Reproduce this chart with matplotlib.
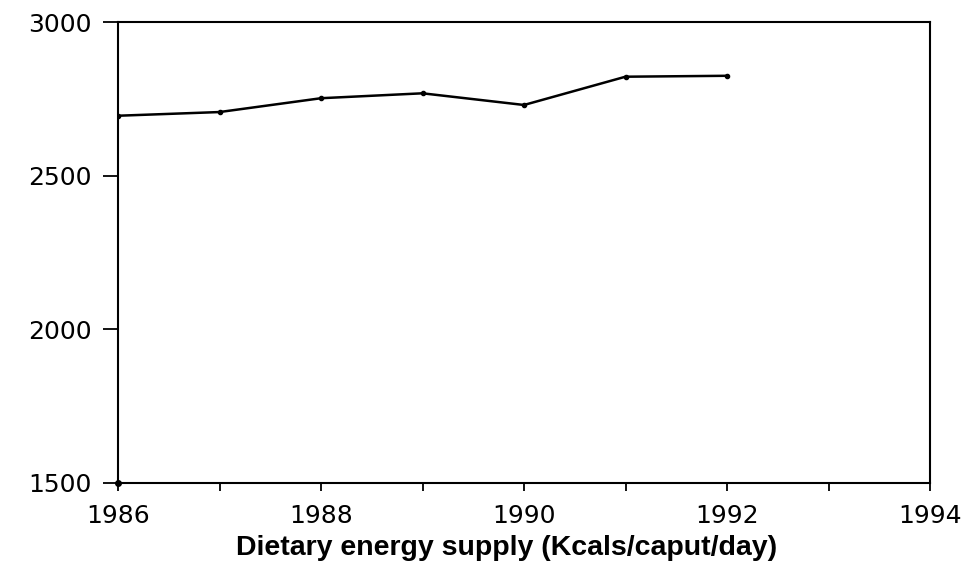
import matplotlib
matplotlib.use('Agg')
import matplotlib.pyplot as plt

# Dietary energy supply values
years = [1986, 1987, 1988, 1989, 1990, 1991, 1992]
kcals = [2695, 2707, 2752, 2768, 2730, 2822, 2825]

y_ticks = [1500, 2000, 2500, 3000]
x_ticks = [1986, 1988, 1990, 1992, 1994]

fig = plt.figure(figsize=(9.76, 5.68), dpi=100)
ax = fig.add_axes([118 / 976, 1 - 483 / 568, 812 / 976, 461 / 568])

ax.plot(years, kcals, color='black', linewidth=1.8, marker='o', markersize=3)
ax.plot([1986], [1500], color='black', marker='o', markersize=4, clip_on=False)

ax.set_xlim(1986, 1994)
ax.set_ylim(1500, 3000)
ax.set_xticks(x_ticks)
ax.set_xticks(range(1986, 1995), minor=True)
ax.set_yticks(y_ticks)

for side in ['top', 'right', 'left', 'bottom']:
    ax.spines[side].set_linewidth(1.5)

ax.tick_params(axis='y', which='major', direction='out', length=11, width=1.3,
               labelsize=18, pad=8)
ax.tick_params(axis='x', which='both', direction='out', length=6, width=1.3,
               labelsize=18, pad=9)

for lbl in ax.get_xticklabels() + ax.get_yticklabels():
    lbl.set_family('DejaVu Sans')

fig.text(507 / 976, 1 - 548 / 568, 'Dietary energy supply (Kcals/caput/day)',
         ha='center', va='center', fontsize=20.5, fontweight='bold',
         family='Liberation Sans')

fig.savefig('out.png', dpi=100)
